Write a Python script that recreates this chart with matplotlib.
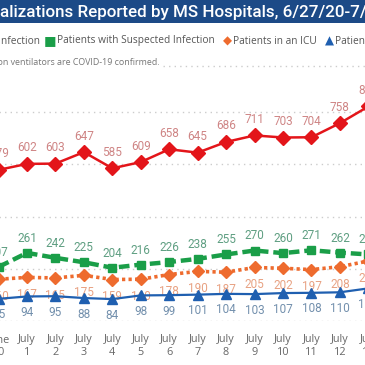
import matplotlib
matplotlib.use("Agg")
import matplotlib.pyplot as plt
from matplotlib import font_manager
from matplotlib.lines import Line2D
from matplotlib.patches import Rectangle

# data (June 30 .. July 13)
dates = ["June\n30", "July\n1", "July\n2", "July\n3", "July\n4", "July\n5", "July\n6",
         "July\n7", "July\n8", "July\n9", "July\n10", "July\n11", "July\n12", "July\n13"]
confirmed = [579, 602, 603, 647, 585, 609, 658, 645, 686, 711, 703, 704, 758, 822]
suspected = [207, 261, 242, 225, 204, 216, 226, 238, 255, 270, 260, 271, 262, 255]
icu = [160, 167, 165, 175, 159, 160, 178, 190, 187, 205, 202, 197, 208, 230]
vent = [85, 94, 95, 88, 84, 98, 99, 101, 104, 103, 107, 108, 110, 125]

W = H = 365.0


def px(x):
    return x / W


def py(y):
    return 1 - y / H


def pick(*names):
    have = {f.name for f in font_manager.fontManager.ttflist}
    for n in names:
        if n in have:
            return n
    return "DejaVu Sans"


ui_font = pick("Open Sans", "Noto Sans", "Lato")
num_font = pick("Liberation Sans Narrow", "Roboto", "DejaVu Sans")
title_font = pick("Roboto", "DejaVu Sans")

fig = plt.figure(figsize=(3.65, 3.65), dpi=100)
fig.patch.set_facecolor("white")

# title banner
fig.add_artist(Rectangle((0, py(23)), 1, 23 / H, transform=fig.transFigure,
                         facecolor="#1c4a87", edgecolor="none"))
renderer = fig.canvas.get_renderer()
probe = fig.text(0, 0, "alizations Reported by MS Hospitals, 6/27/20-7/",
                 fontsize=10, family=title_font, weight="medium")
fs = 10 * 366 / probe.get_window_extent(renderer).width
probe.remove()
probe = fig.text(0, 0, "Hospit", fontsize=fs, family=title_font, weight="medium")
shift = probe.get_window_extent(renderer).width
probe.remove()
fig.text(px(-shift), py(12.5), "Hospitalizations Reported by MS Hospitals, 6/27/20-7/13/20",
         fontsize=fs, family=title_font, weight="medium", color="white", va="center")

# legend row
leg_y = py(41)
fig.text(px(40), leg_y, "Patients with Confirmed Infection", ha="right", va="center",
         fontsize=7.3, family=ui_font, color="#555555")
fig.text(px(50), leg_y, "\u25A0", ha="center", va="center", fontsize=9.5, color="#1a9e48")
fig.text(px(57), leg_y, "Patients with Suspected Infection", va="center",
         fontsize=7.3, family=ui_font, color="#555555")
fig.text(px(227), leg_y, "\u25C6", ha="center", va="center", fontsize=8.5, color="#ee6b2e")
fig.text(px(233), leg_y, "Patients in an ICU", va="center",
         fontsize=7.3, family=ui_font, color="#555555")
fig.text(px(329), leg_y, "\u25B2", ha="center", va="center", fontsize=8.5, color="#1f5fb0")
fig.text(px(335), leg_y, "Patients on Ventilators", va="center",
         fontsize=7.3, family=ui_font, color="#555555")

# subtitle + dotted leader
fig.text(px(160), py(62.5), "All patients on ventilators are COVID-19 confirmed.", ha="right",
         va="center", fontsize=6.4, family=ui_font, color="#777777")
fig.add_artist(Line2D([px(163), 1], [py(65.5), py(65.5)], transform=fig.transFigure,
                      color="#cccccc", linestyle=(0, (1, 3)), linewidth=1))

# plot area (wider than the figure, as in the cropped original)
ax = fig.add_axes([px(-15.7), py(321), 398.3 / W, 261 / H])
x = list(range(len(dates)))

ax.plot(x, confirmed, color="#e3151a", linewidth=1.8, marker="D", markersize=7, zorder=5)
ax.plot(x, suspected, color="#1a9e48", linewidth=3.2, linestyle=(0, (2.4, 1.1)),
        marker="s", markersize=6, zorder=4)
ax.plot(x, icu, color="#ee6b2e", linewidth=2.6, linestyle=(0, (0.9, 0.9)),
        marker="D", markersize=6.5, zorder=3)
ax.plot(x, vent, color="#1f5fb0", linewidth=1.6, marker="^", markersize=7, zorder=4)

label_kw = dict(textcoords="offset points", ha="center", va="center",
                fontsize=8.5, family=num_font, annotation_clip=False)
for xi, v in zip(x, confirmed):
    ax.annotate(str(v), (xi, v), xytext=(0, 11.5), color="#cf8585", **label_kw)
for xi, v in zip(x, suspected):
    ax.annotate(str(v), (xi, v), xytext=(0, 10.5), color="#5f9f82", **label_kw)
for xi, v in zip(x, icu):
    ax.annotate(str(v), (xi, v), xytext=(0, -12.5), color="#e8a283", zorder=1, **label_kw)
for xi, v in zip(x, vent):
    ax.annotate(str(v), (xi, v), xytext=(0, -11.5), color="#7390ad", **label_kw)

ax.set_xlim(-0.5, 13.5)
ax.set_ylim(0, 1000)
ax.set_xticks(x)
ax.set_xticklabels(dates, fontsize=7.8, family=ui_font, color="#666666", linespacing=1.25)
ax.set_yticks([0, 200, 400, 600, 800])
ax.set_yticklabels([])
ax.tick_params(length=0, pad=9.5)
ax.yaxis.grid(True, color="#cccccc", linestyle=(0, (1, 3)), linewidth=1)
ax.set_axisbelow(True)
for s in ax.spines.values():
    s.set_visible(False)
ax.patch.set_alpha(0)

fig.savefig("out.png", dpi=100)
